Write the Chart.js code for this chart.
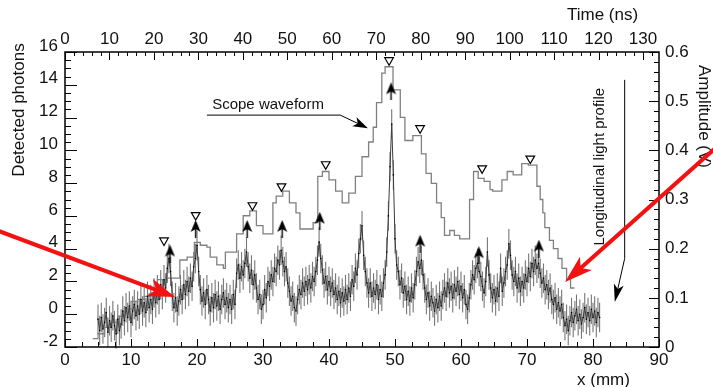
<!DOCTYPE html>
<html>
<head>
<meta charset="utf-8">
<script src="https://cdn.jsdelivr.net/npm/chart.js@4/dist/chart.umd.min.js"></script>
<style>
  html, body { margin: 0; padding: 0; background: #fff; }
  #wrap { width: 713px; height: 387px; position: relative; }
</style>
</head>
<body>
<div id="wrap"><canvas id="lightChart"></canvas></div>
<script>
// --- Tick labels ---
const xTicks = [0, 10, 20, 30, 40, 50, 60, 70, 80, 90];
const timeTicks = [0, 10, 20, 30, 40, 50, 60, 70, 80, 90, 100, 110, 120, 130];
const photonTicks = [-2, 0, 2, 4, 6, 8, 10, 12, 14, 16];
const ampTicks = [0, 0.1, 0.2, 0.3, 0.4, 0.5, 0.6];

// --- Scope waveform (step levels, x in mm, amplitude in V) ---
const stepX = [4.2, 5.0, 6.0, 7.0, 8.0, 9.0, 10.0, 11.0, 12.0, 13.0,
  14.0, 15.5, 17.4, 18.5, 19.6, 20.5, 21.5, 22.0, 23.0, 24.0,
  24.3, 26.0, 27.0, 28.0, 29.0, 30.0, 31.5, 32.0, 33.0, 34.0,
  35.0, 35.6, 37.6, 38.3, 39.0, 40.0, 41.0, 42.0, 43.0, 44.0,
  45.0, 46.0, 46.7, 47.2, 48.0, 48.5, 49.7, 50.8, 51.5, 52.7,
  54.0, 54.7, 55.5, 56.3, 57.0, 57.5, 58.3, 59.0, 59.8, 61.3,
  61.9, 62.6, 63.5, 64.4, 64.8, 66.2, 67.0, 67.9, 69.2, 70.2,
  71.5, 72.0, 72.4, 72.7, 73.4, 74.0, 74.7, 75.3, 76.0, 76.6, 77.2];
const stepAmp = [0.017, 0.027, 0.040, 0.050, 0.063, 0.077, 0.093, 0.097, 0.103, 0.110,
  0.137, 0.140, 0.177, 0.183, 0.213, 0.207, 0.203, 0.183, 0.167, 0.160,
  0.193, 0.230, 0.267, 0.277, 0.247, 0.230, 0.293, 0.307, 0.317, 0.293,
  0.273, 0.240, 0.253, 0.347, 0.357, 0.340, 0.317, 0.293, 0.313, 0.347,
  0.387, 0.417, 0.447, 0.497, 0.557, 0.570, 0.523, 0.467, 0.420, 0.430,
  0.393, 0.353, 0.333, 0.293, 0.263, 0.227, 0.237, 0.227, 0.220, 0.300,
  0.357, 0.343, 0.337, 0.320, 0.317, 0.340, 0.357, 0.350, 0.373, 0.370,
  0.327, 0.300, 0.273, 0.243, 0.217, 0.200, 0.180, 0.160, 0.137, 0.120, 0.120];

// --- Detected photons (sampled every 0.25 mm from 5 mm, one row = 2 mm) ---
const photonStart = 5.0;
const photonStep = 0.25;
const photonErr = 0.9;
const photonVals = [
  -0.3, -1.0, -0.2, -0.9, -0.5, 0.1, -1.1, -0.4,
  -0.8, -0.1, -0.7, -1.2, -0.3, -1.0, -0.6, 0.2,
  -0.4, 0.4, -0.2, 0.5, -0.5, 0.2, 0.6, -0.1,
  0.5, 0.0, 0.9, 0.2, 0.7, 0.1, 1.1, 0.4,
  0.9, 0.3, 1.3, 0.7, 1.5, 0.9, 1.8, 1.2,
  2.1, 1.6, 2.8, 3.4, 2.6, 1.1, 0.4, 1.0,
  0.2, 0.8, 1.5, 0.9, 1.8, 1.2, 2.0, 1.4,
  2.2, 1.7, 2.9, 3.4, 4.2, 2.6, 1.5, 0.8,
  1.3, 0.6, 1.5, 0.9, 0.2, 1.0, 0.4, 1.2,
  0.5, 1.1, 0.3, 0.9, 1.3, 0.6, 1.0, 0.4,
  0.9, 0.3, 1.2, 0.6, 2.5, 3.0, 2.2, 2.9,
  2.4, 3.1, 3.8, 2.9, 2.2, 2.7, 1.8, 2.4,
  1.6, 0.9, 1.2, 0.3, 0.6, 1.5, 1.0, 2.0,
  1.7, 2.4, 2.0, 2.8, 2.6, 3.3, 3.0, 3.9,
  3.2, 2.6, 2.9, 1.9, 1.4, 0.8, 1.1, 0.4,
  0.2, 0.9, 1.5, 1.2, 1.9, 1.4, 2.0, 1.5,
  2.1, 1.6, 2.3, 2.0, 2.6, 3.3, 4.4, 3.4,
  2.7, 1.9, 2.3, 1.5, 2.0, 1.4, 1.9, 1.2,
  1.6, 0.9, 1.4, 0.7, 1.3, 0.8, 1.5, 0.9,
  1.6, 1.1, 2.1, 1.7, 2.8, 2.4, 3.7, 4.6,
  5.4, 3.6, 2.6, 1.9, 1.3, 1.9, 1.1, 1.6,
  1.2, 1.8, 0.9, 1.5, 1.1, 1.9, 2.4, 3.8,
  6.0, 9.0, 11.6, 8.5, 4.6, 3.0, 2.6, 1.8,
  2.2, 1.3, 1.7, 0.9, 1.4, 0.8, 1.6, 1.0,
  1.8, 2.6, 3.2, 2.8, 3.3, 2.4, 1.6, 0.9,
  1.3, 0.5, 1.1, 0.7, 0.2, 0.9, 0.4, 1.1,
  0.5, 1.2, 1.6, 1.1, 1.9, 1.3, 1.7, 1.0,
  1.8, 1.4, 2.0, 1.2, 1.7, 1.0, 1.5, 0.6,
  0.3, 1.0, 1.8, 2.4, 2.1, 2.8, 3.1, 2.6,
  2.3, 1.7, 1.3, 2.0, 3.8, 2.4, 1.6, 1.0,
  1.5, 0.8, 1.6, 1.1, 2.8, 1.4, 1.9, 2.6,
  3.0, 4.3, 3.6, 2.4, 2.0, 2.6, 1.6, 2.2,
  1.4, 2.0, 1.6, 2.4, 2.0, 2.8, 2.3, 3.1,
  2.6, 3.3, 2.8, 3.1, 2.5, 1.9, 2.2, 1.5,
  1.8, 1.2, 1.6, 0.9, 0.6, 1.0, 0.3, 0.7,
  0.2, 0.6, -0.2, -0.7, -0.3, -1.0, -0.4, 0.1,
  -0.5, -0.1, 0.3, -0.4, 0.0, -0.6, -0.2, 0.4,
  -0.3, 0.1, -0.4, 0.3, -0.2, 0.2, -0.5, 0.1,
  -0.2];
const photonX = photonVals.map((v, i) => photonStart + i * photonStep);

// --- Peak markers ---
const upArrowX = [15.9, 19.8, 27.6, 32.9, 38.6, 49.4, 53.8, 62.7, 71.8];
const upArrowY = [3.7, 5.2, 5.2, 5.2, 5.7, 13.6, 4.3, 3.6, 4.0];
const downTriX = [15.0, 19.8, 28.4, 32.8, 39.5, 49.1, 53.8, 63.2, 70.5];
const downTriY = [4.5, 6.05, 6.65, 7.8, 9.15, 15.5, 11.35, 8.9, 9.5];

const FONT = "'Liberation Sans', Arial, Helvetica, sans-serif";

// --- Arrowhead point style ---
function makeArrowHead() {
    const c = document.createElement('canvas');
    c.width = 11; c.height = 18;
    const g = c.getContext('2d');
    g.fillStyle = '#000';
    g.beginPath();
    g.moveTo(5.5, 0); g.lineTo(10.5, 12); g.lineTo(5.5, 9); g.lineTo(0.5, 12);
    g.closePath(); g.fill();
    g.fillRect(4.8, 8, 1.4, 10);
    return c;
}

function arrowLine(ctx, x1, y1, x2, y2, len, half, color, width) {
    const ang = Math.atan2(y2 - y1, x2 - x1);
    ctx.save();
    ctx.strokeStyle = color; ctx.fillStyle = color; ctx.lineWidth = width;
    ctx.beginPath();
    ctx.moveTo(x1, y1);
    ctx.lineTo(x2 - Math.cos(ang) * len * 0.7, y2 - Math.sin(ang) * len * 0.7);
    ctx.stroke();
    ctx.translate(x2, y2); ctx.rotate(ang);
    ctx.beginPath();
    ctx.moveTo(0, 0); ctx.lineTo(-len, -half); ctx.lineTo(-len * 0.75, 0); ctx.lineTo(-len, half);
    ctx.closePath(); ctx.fill();
    ctx.restore();
}

// --- Plugin: error bars, inward ticks, frame, annotations ---
const decorPlugin = {
    id: 'decor',
    beforeDatasetsDraw(chart) {
        const { ctx, scales: { x, y } } = chart;
        ctx.save();
        ctx.strokeStyle = '#777';
        ctx.lineWidth = 1.1;
        ctx.beginPath();
        photonVals.forEach((v, i) => {
            const px = x.getPixelForValue(photonX[i]);
            ctx.moveTo(px, y.getPixelForValue(v - photonErr));
            ctx.lineTo(px, y.getPixelForValue(v + photonErr));
        });
        ctx.stroke();
        ctx.restore();
    },
    afterDraw(chart) {
        const { ctx, chartArea: a, scales: { x, xTop, y, y2 } } = chart;
        ctx.save();
        ctx.strokeStyle = '#000';
        ctx.lineWidth = 1;
        ctx.beginPath();
        // left ticks
        for (let v = -2; v <= 16.001; v += 0.5) {
            const p = Math.round(y.getPixelForValue(v)) + 0.5;
            const len = Math.abs(Math.round(v) - v) < 1e-6 && Math.round(v) % 2 === 0 ? 12 : 6;
            ctx.moveTo(a.left, p); ctx.lineTo(a.left + len, p);
        }
        // right ticks
        for (let v = 0; v <= 0.6001; v += 0.02) {
            const p = Math.round(y2.getPixelForValue(v)) + 0.5;
            const major = Math.abs(Math.round(v * 10) - v * 10) < 1e-6;
            ctx.moveTo(a.right, p); ctx.lineTo(a.right - (major ? 10 : 5), p);
        }
        // bottom ticks
        for (let v = 0; v <= 90.001; v += 2.5) {
            const p = Math.round(x.getPixelForValue(v)) + 0.5;
            const major = v % 10 === 0;
            ctx.moveTo(p, a.bottom); ctx.lineTo(p, a.bottom - (major ? 8 : 5));
        }
        // top ticks
        for (let v = 0; v <= 133; v += 2) {
            const p = Math.round(xTop.getPixelForValue(v)) + 0.5;
            const major = v % 10 === 0;
            ctx.moveTo(p, a.top); ctx.lineTo(p, a.top + (major ? 8 : 4));
        }
        ctx.stroke();
        ctx.lineWidth = 1.5;
        ctx.strokeRect(a.left, a.top, a.right - a.left, a.bottom - a.top);

        // axis titles
        ctx.fillStyle = '#111';
        ctx.font = '17px ' + FONT;
        ctx.textBaseline = 'middle';
        ctx.textAlign = 'left';
        ctx.fillText('Time (ns)', 567, 15);
        ctx.fillText('x (mm)', 577, 380);
        ctx.save();
        ctx.translate(19, 110); ctx.rotate(-Math.PI / 2);
        ctx.textAlign = 'center';
        ctx.fillText('Detected photons', 0, 0);
        ctx.restore();
        ctx.save();
        ctx.translate(704, 65); ctx.rotate(Math.PI / 2);
        ctx.fillText('Amplitude (V)', 0, 0);
        ctx.restore();

        // scope waveform label and leader
        ctx.font = '15px ' + FONT;
        ctx.fillText('Scope waveform', x.getPixelForValue(22.3), y.getPixelForValue(12.8));
        ctx.lineWidth = 1;
        ctx.beginPath();
        ctx.moveTo(x.getPixelForValue(21.5), y.getPixelForValue(12.15));
        ctx.lineTo(x.getPixelForValue(41.7), y.getPixelForValue(12.15));
        ctx.stroke();
        arrowLine(ctx, x.getPixelForValue(41.7), y.getPixelForValue(12.15),
            x.getPixelForValue(45.9), y.getPixelForValue(11.35), 15, 5, '#000', 1);

        // longitudinal light profile label and leader
        ctx.save();
        ctx.translate(x.getPixelForValue(81.1), y.getPixelForValue(9.0));
        ctx.rotate(-Math.PI / 2);
        ctx.textAlign = 'center';
        ctx.fillStyle = '#111';
        ctx.fillText('Longitudinal light profile', 0, 0);
        ctx.restore();
        ctx.beginPath();
        ctx.moveTo(x.getPixelForValue(84.8), y.getPixelForValue(14.3));
        ctx.lineTo(x.getPixelForValue(84.8), y.getPixelForValue(3.4));
        ctx.stroke();
        arrowLine(ctx, x.getPixelForValue(84.8), y.getPixelForValue(3.4),
            x.getPixelForValue(83.3), y.getPixelForValue(0.74), 18, 5, '#000', 1);

        // red arrows
        arrowLine(ctx, -4, 230, 175, 297, 27, 9, '#f21212', 4);
        arrowLine(ctx, 720, 144, 565, 282, 28, 9, '#f21212', 4);
        ctx.restore();
    }
};

const tickFont = { family: FONT, size: 17 };

function fixedTicks(list) {
    return scale => { scale.ticks = list.map(v => ({ value: v })); };
}

new Chart(document.getElementById('lightChart').getContext('2d'), {
    type: 'line',
    data: {
        datasets: [
            {
                label: 'Detected photons',
                data: photonX.map((v, i) => ({ x: v, y: photonVals[i] })),
                xAxisID: 'x', yAxisID: 'y',
                borderColor: '#3c3c3c',
                borderWidth: 1,
                pointRadius: 0.8,
                pointBackgroundColor: '#000',
                pointBorderWidth: 0,
                order: 2
            },
            {
                label: 'Scope waveform',
                data: stepX.map((v, i) => ({ x: v, y: stepAmp[i] })),
                xAxisID: 'x', yAxisID: 'y2',
                stepped: 'before',
                borderColor: '#808080',
                borderWidth: 1.3,
                pointRadius: 0,
                order: 3
            },
            {
                type: 'scatter',
                label: 'Photon peaks',
                data: upArrowX.map((v, i) => ({ x: v, y: upArrowY[i] })),
                xAxisID: 'x', yAxisID: 'y',
                pointStyle: makeArrowHead(),
                order: 1
            },
            {
                type: 'scatter',
                label: 'Waveform peaks',
                data: downTriX.map((v, i) => ({ x: v, y: downTriY[i] })),
                xAxisID: 'x', yAxisID: 'y',
                pointStyle: 'triangle',
                rotation: 180,
                pointRadius: 5,
                backgroundColor: '#fff',
                borderColor: '#000',
                borderWidth: 1.2,
                order: 1
            }
        ]
    },
    options: {
        responsive: true,
        maintainAspectRatio: false,
        animation: false,
        layout: { padding: 0 },
        plugins: { legend: { display: false }, tooltip: { enabled: false } },
        scales: {
            x: {
                type: 'linear', position: 'bottom', min: 0, max: 90,
                grid: { display: false, drawTicks: false }, border: { display: false },
                ticks: { font: tickFont, color: '#111', padding: 3, maxRotation: 0 },
                afterBuildTicks: fixedTicks(xTicks),
                afterFit: s => { s.height = 40; }
            },
            xTop: {
                type: 'linear', position: 'top', min: 0, max: 133.6,
                grid: { display: false, drawTicks: false }, border: { display: false },
                ticks: { font: tickFont, color: '#111', padding: 2, maxRotation: 0 },
                afterBuildTicks: fixedTicks(timeTicks),
                afterFit: s => { s.height = 52; }
            },
            y: {
                type: 'linear', position: 'left', min: -2, max: 16,
                grid: { display: false, drawTicks: false }, border: { display: false },
                ticks: { font: tickFont, color: '#111', padding: 7, labelOffset: -6 },
                afterBuildTicks: fixedTicks(photonTicks),
                afterFit: s => { s.width = 65; }
            },
            y2: {
                type: 'linear', position: 'right', min: 0, max: 0.6,
                grid: { display: false, drawTicks: false }, border: { display: false },
                ticks: { font: tickFont, color: '#111', padding: 6 },
                afterBuildTicks: fixedTicks(ampTicks),
                afterFit: s => { s.width = 54; }
            }
        }
    },
    plugins: [decorPlugin]
});
</script>
</body>
</html>
